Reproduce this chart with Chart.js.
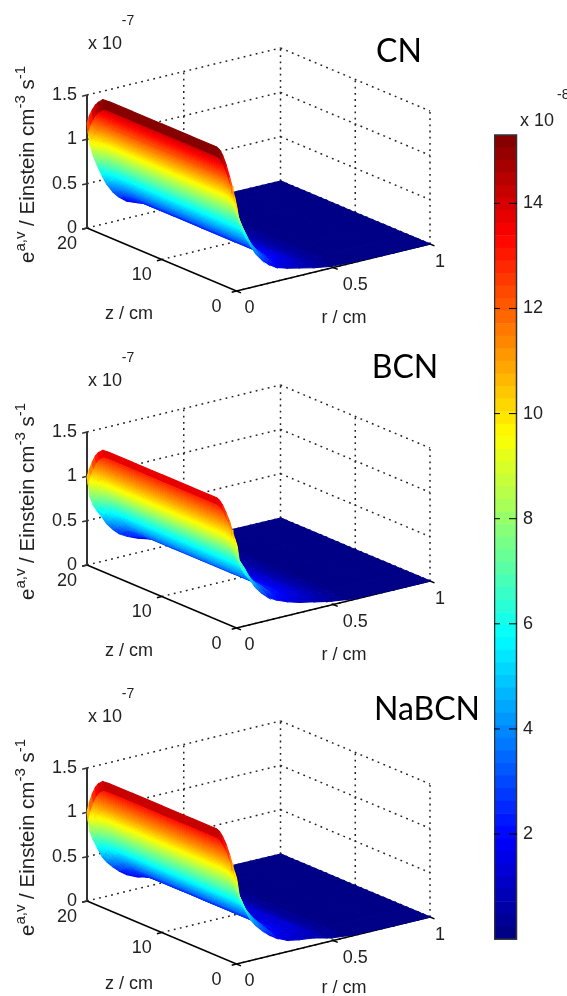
<!DOCTYPE html>
<html>
<head>
<meta charset="utf-8">
<title>Average emission surfaces</title>
<script src="https://cdn.jsdelivr.net/npm/chart.js@4"></script>
<style>
  html, body { margin: 0; padding: 0; background: #fff; overflow: hidden; }
  canvas { position: absolute; filter: blur(0.4px); }
</style>
</head>
<body>
<canvas id="surfaces" width="567" height="996" style="left:0;top:0"></canvas>
<canvas id="colorbar" width="73" height="871" style="left:494px;top:85px"></canvas>
<script>
// values, e in 1e-7 Einstein cm-3 s-1
const rGrid = [0, 0.005, 0.015, 0.03, 0.05, 0.077, 0.1, 0.133, 0.165, 0.205, 0.26, 0.323, 0.4, 0.49, 0.6, 0.8, 1];
const zGrid = [20, 19.7, 19.3, 18.9, 18.5, 17.9, 17, 14, 10, 6, 3, 2.67, 2.3, 1.87, 1.4, 0.93, 0.6, 0.27, 0];

// e across the radius, on the plateau of the z profile
const cnAlongR = [1.53, 1.42, 1.22, 1.06, 0.9, 0.72, 0.58, 0.44, 0.34, 0.25, 0.19, 0.14, 0.08, 0.03, 0.01, 0, 0];
const bcnAlongR = [1.375, 1.3, 1.07, 0.93, 0.82, 0.7, 0.58, 0.46, 0.37, 0.3, 0.23, 0.17, 0.12, 0.06, 0.015, 0, 0];
const nabcnAlongR = [1.43, 1.33, 1.11, 0.98, 0.84, 0.66, 0.56, 0.45, 0.36, 0.27, 0.19, 0.15, 0.12, 0.05, 0.012, 0, 0];

// relative fall-off towards both ends of the tube
const cnAlongZ = [0.77, 0.83, 0.885, 0.93, 0.96, 0.995, 1, 1, 1, 1, 1, 1, 0.99, 0.96, 0.9, 0.82, 0.76, 0.69, 0.63];
const bcnAlongZ = [0.72, 0.79, 0.86, 0.92, 0.96, 0.995, 1, 1, 1, 1, 1, 1, 0.99, 0.96, 0.91, 0.85, 0.79, 0.73, 0.69];
const nabcnAlongZ = [0.7, 0.78, 0.86, 0.92, 0.96, 0.995, 1, 1, 1, 1, 1, 1, 0.99, 0.96, 0.91, 0.84, 0.78, 0.72, 0.68];

const panelNames = ['CN', 'BCN', 'NaBCN'];
const rTicks = [0, 0.5, 1];
const zTicks = [0, 10, 20];
const eTicks = [0, 0.5, 1, 1.5];
const colorbarTicks = [2, 4, 6, 8, 10, 12, 14];

const colorMax = 15.3; // top of the colour bar, 1e-8 units
const levels = 64;

// view of the axes box (orthographic, so a plain affine map)
const view = { x0: 236.5, y0: 291, rx: 193.5, ry: -47, zx: -149.5, zy: -63, ey: -133 };

function project(r, z, e, dy) {
  return {
    x: view.x0 + r * view.rx + (z / 20) * view.zx,
    y: view.y0 + dy + r * view.ry + (z / 20) * view.zy + (e / 1.5) * view.ey,
  };
}

function jet(t) {
  const band = (c) => Math.max(0, Math.min(1, 1.5 - Math.abs(4 * t - c)));
  const rgb = [band(3), band(2), band(1)].map((v) => Math.round(v * 255));
  return `rgb(${rgb[0]},${rgb[1]},${rgb[2]})`;
}

function levelColor(l) {
  return jet((l + 0.5) / levels);
}

function levelOf(e) {
  return Math.max(0, Math.min(levels - 1, Math.floor((e * 10 / colorMax) * levels)));
}

// gradient across one cell, iso-lines kept parallel to the z axis
function cellGradient(chart, a0, a1, b0, b1, e0, e1) {
  const sx = chart.scales.x;
  const sy = chart.scales.y;
  const ax = sx.getPixelForValue((a0.x + a1.x) / 2);
  const ay = sy.getPixelForValue((a0.y + a1.y) / 2);
  const bx = sx.getPixelForValue((b0.x + b1.x) / 2);
  const by = sy.getPixelForValue((b0.y + b1.y) / 2);
  const len = Math.hypot(view.zx, view.zy);
  const nx = -view.zy / len;
  const ny = view.zx / len;
  const d = (bx - ax) * nx + (by - ay) * ny;
  // scales have no size yet on the first pass through the options
  if (!Number.isFinite(d) || e0 <= e1 || Math.abs(d) < 0.2) {
    return levelColor(levelOf((e0 + e1) / 2));
  }
  const grad = chart.ctx.createLinearGradient(ax, ay, ax + nx * d, ay + ny * d);
  const w = colorMax / 10 / levels;
  for (let l = levelOf(e0); l >= levelOf(e1); l--) {
    const top = Math.min(e0, (l + 1) * w);
    const bottom = Math.max(e1, l * w);
    grad.addColorStop((e0 - top) / (e0 - e1), levelColor(l));
    grad.addColorStop((e0 - bottom) / (e0 - e1), levelColor(l));
  }
  return grad;
}

function lineSet(points, color, width, dash, order) {
  return {
    data: points,
    showLine: true,
    fill: false,
    borderColor: color,
    borderWidth: width,
    borderDash: dash,
    pointRadius: 0,
    tension: 0,
    order: order,
  };
}

function boxLines(dy) {
  const sets = [];
  const dots = (a, b) => sets.push(lineSet([a, b], '#222', 1.5, [1.8, 4.4], 100000));
  eTicks.forEach((e) => {
    dots(project(0, 20, e, dy), project(1, 20, e, dy));
    dots(project(1, 20, e, dy), project(1, 0, e, dy));
  });
  rTicks.slice(1).forEach((r) => {
    dots(project(r, 20, 0, dy), project(r, 20, 1.5, dy));
    dots(project(r, 0, 0, dy), project(r, 20, 0, dy));
  });
  zTicks.slice(0, 2).forEach((z) => {
    dots(project(1, z, 0, dy), project(1, z, 1.5, dy));
    dots(project(0, z, 0, dy), project(1, z, 0, dy));
  });

  const solid = (a, b, color, width) => sets.push(lineSet([a, b], color, width, [], 90000));
  solid(project(0, 20, 0, dy), project(0, 20, 1.5, dy), '#333', 2);
  solid(project(0, 20, 0, dy), project(0, 0, 0, dy), '#000', 1.5);
  solid(project(0, 0, 0, dy), project(1, 0, 0, dy), '#000', 1.5);
  eTicks.forEach((e) => solid(project(0, 20, e, dy), project(-0.025, 20, e, dy), '#333', 1.5));
  rTicks.forEach((r) => solid(project(r, 0, 0, dy), project(r, -0.6, 0, dy), '#000', 1.5));
  zTicks.forEach((z) => solid(project(0, z, 0, dy), project(-0.025, z, 0, dy), '#000', 1.5));
  return sets;
}

function surfaceCells(alongR, alongZ, dy, startOrder) {
  const sets = [];
  let order = startOrder;
  // far cells first: large r and large z are behind the rest
  for (let i = rGrid.length - 2; i >= 0; i--) {
    for (let j = 0; j < zGrid.length - 1; j++) {
      const e00 = alongR[i] * alongZ[j];
      const e01 = alongR[i] * alongZ[j + 1];
      const e10 = alongR[i + 1] * alongZ[j];
      const e11 = alongR[i + 1] * alongZ[j + 1];
      const a0 = project(rGrid[i], zGrid[j], e00, dy);
      const a1 = project(rGrid[i], zGrid[j + 1], e01, dy);
      const b0 = project(rGrid[i + 1], zGrid[j], e10, dy);
      const b1 = project(rGrid[i + 1], zGrid[j + 1], e11, dy);
      const topLevel = levelColor(levelOf((e00 + e01) / 2));
      // the ridge cell is one flat band in the original, no blend
      const paint = i === 0
        ? topLevel
        : (ctx) => cellGradient(ctx.chart, a0, a1, b0, b1, (e00 + e01) / 2, (e10 + e11) / 2);
      sets.push({
        data: [a0, b0, b1, a1, a0],
        showLine: true,
        fill: 'shape',
        backgroundColor: paint,
        borderColor: paint,
        borderWidth: 1.1,
        pointRadius: 0,
        tension: 0,
        order: order--,
      });
    }
  }
  return sets;
}

const panels = [
  { name: panelNames[0], alongR: cnAlongR, alongZ: cnAlongZ, dy: 0, titleX: 399, titleY: 52, capDy: 0 },
  { name: panelNames[1], alongR: bcnAlongR, alongZ: bcnAlongZ, dy: 337, titleX: 405, titleY: 368, capDy: 337 },
  { name: panelNames[2], alongR: nabcnAlongR, alongZ: nabcnAlongZ, dy: 673, titleX: 427, titleY: 710, capDy: 670 },
];

const datasets = [];
panels.forEach((p, k) => {
  datasets.push(...boxLines(p.dy));
  datasets.push(...surfaceCells(p.alongR, p.alongZ, p.dy, 80000 - k * 1000));
});

const AXIS_FONT = '18px "Liberation Sans", Arial, sans-serif';
const SUP_FONT = '14px "Liberation Sans", Arial, sans-serif';
const TEXT_COLOR = '#222';

function put(ctx, str, x, y, font, align, color) {
  ctx.font = font;
  ctx.textAlign = align || 'center';
  ctx.textBaseline = 'middle';
  ctx.fillStyle = color || TEXT_COLOR;
  ctx.fillText(str, x, y);
}

// rotated y label, run by run so the superscripts sit right
function drawEAxisTitle(ctx, dy) {
  const runs = [
    ['e', false], ['a,v', true], [' / Einstein cm', false], ['-3', true], [' s', false], ['-1', true],
  ];
  ctx.save();
  ctx.translate(34, 263 + dy);
  ctx.rotate(-Math.PI / 2);
  ctx.textAlign = 'left';
  ctx.textBaseline = 'alphabetic';
  ctx.fillStyle = TEXT_COLOR;
  let at = 0;
  runs.forEach(([str, sup]) => {
    ctx.font = sup ? '15px "Liberation Sans", Arial, sans-serif' : '20.5px "Liberation Sans", Arial, sans-serif';
    ctx.fillText(str, at, sup ? -9 : 0);
    at += ctx.measureText(str).width;
  });
  ctx.restore();
}

const axisText = {
  id: 'axisText',
  afterDraw(chart) {
    const ctx = chart.ctx;
    const sx = chart.scales.x;
    const sy = chart.scales.y;
    const at = (p, ox, oy) => [sx.getPixelForValue(p.x) + ox, sy.getPixelForValue(p.y) + oy];
    panels.forEach((p) => {
      eTicks.forEach((e) => {
        const [x, y] = at(project(0, 20, e, p.dy), -10, 0);
        put(ctx, String(e), x, y, AXIS_FONT, 'right');
      });
      zTicks.forEach((z) => {
        const [x, y] = at(project(0, z, 0, p.dy), -20, 16);
        put(ctx, String(z), x, y, AXIS_FONT);
      });
      const rOffsets = [[13, 17], [22, 18], [10, 18]];
      rTicks.forEach((r, i) => {
        const [x, y] = at(project(r, 0, 0, p.dy), rOffsets[i][0], rOffsets[i][1]);
        put(ctx, String(r), x, y, AXIS_FONT);
      });
      put(ctx, 'z / cm', 129, 314 + p.capDy, AXIS_FONT);
      put(ctx, 'r / cm', 344, 318 + p.capDy, AXIS_FONT);
      put(ctx, 'x 10', 105, 44 + p.dy, AXIS_FONT);
      put(ctx, '-7', 128, 21 + p.dy, SUP_FONT);
      drawEAxisTitle(ctx, p.dy);
      put(ctx, p.name, p.titleX, p.titleY, '32px Lato, sans-serif', 'center', '#000');
    });
  },
};

new Chart(document.getElementById('surfaces'), {
  type: 'scatter',
  data: { datasets: datasets },
  options: {
    responsive: false,
    animation: false,
    events: [],
    layout: { padding: 0 },
    plugins: { legend: { display: false }, tooltip: { enabled: false } },
    scales: {
      x: { type: 'linear', display: false, min: 0, max: 567 },
      y: { type: 'linear', display: false, min: 0, max: 996, reverse: true },
    },
  },
  plugins: [axisText],
});

// colour bar, one floating bar per colour level
const colorbarSets = [];
for (let l = 0; l < levels; l++) {
  colorbarSets.push({
    data: [[(l * colorMax) / levels, ((l + 1) * colorMax) / levels]],
    backgroundColor: levelColor(l),
    borderWidth: 0,
    barPercentage: 1,
    categoryPercentage: 1,
    grouped: false,
  });
}

const colorbarFrame = {
  id: 'colorbarFrame',
  afterDraw(chart) {
    const ctx = chart.ctx;
    const a = chart.chartArea;
    ctx.save();
    ctx.strokeStyle = '#333';
    ctx.lineWidth = 1.5;
    ctx.strokeRect(a.left + 0.5, a.top, a.right - a.left - 1, a.bottom - a.top);
    ctx.strokeStyle = '#000';
    ctx.lineWidth = 1;
    colorbarTicks.forEach((v) => {
      const y = chart.scales.y.getPixelForValue(v);
      ctx.beginPath();
      ctx.moveTo(a.left, y);
      ctx.lineTo(a.left + 6, y);
      ctx.moveTo(a.right - 8, y);
      ctx.lineTo(a.right, y);
      ctx.stroke();
    });
    ctx.restore();
    put(ctx, 'x 10', 43, 36, AXIS_FONT);
    put(ctx, '-8', 63, 10, SUP_FONT, 'left');
  },
};

new Chart(document.getElementById('colorbar'), {
  type: 'bar',
  data: { labels: [''], datasets: colorbarSets },
  options: {
    responsive: false,
    animation: false,
    events: [],
    layout: { padding: { top: 50, bottom: 5 } },
    plugins: { legend: { display: false }, tooltip: { enabled: false } },
    scales: {
      x: { display: false },
      y: {
        position: 'right',
        min: 0,
        max: colorMax,
        afterFit: (scale) => { scale.width = 50; },
        afterBuildTicks: (scale) => { scale.ticks = colorbarTicks.map((v) => ({ value: v })); },
        grid: { display: false, tickLength: 0 },
        border: { display: false },
        ticks: {
          padding: 6,
          color: TEXT_COLOR,
          font: { family: '"Liberation Sans", Arial, sans-serif', size: 18 },
        },
      },
    },
  },
  plugins: [colorbarFrame],
});
</script>
</body>
</html>
